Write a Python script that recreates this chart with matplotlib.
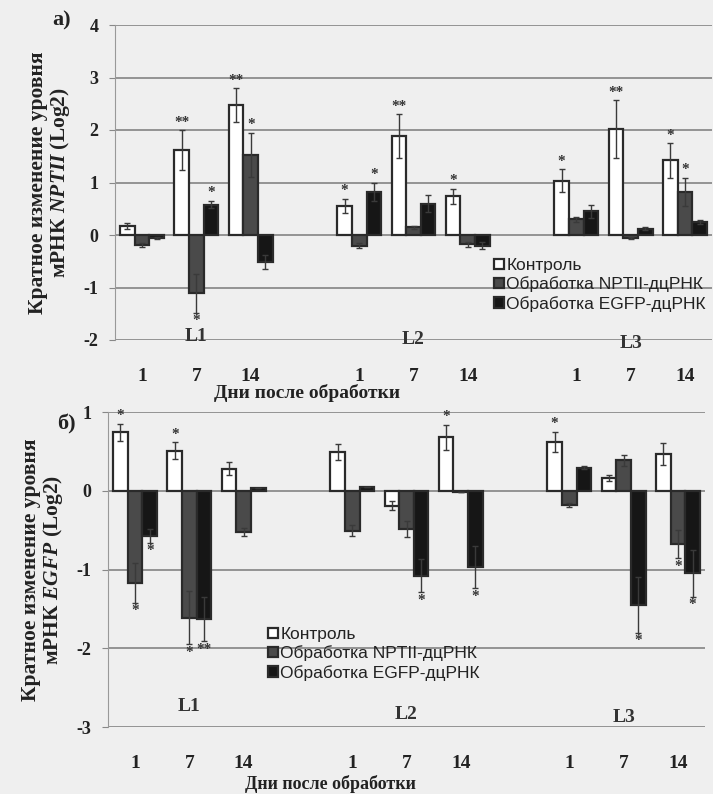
import numpy as np
import matplotlib
matplotlib.use("Agg")
import matplotlib.pyplot as plt

plt.rcParams['font.family'] = ['Liberation Serif', 'DejaVu Serif']
plt.rcParams['mathtext.fontset'] = 'custom'
plt.rcParams['mathtext.rm'] = 'Liberation Serif:bold'
plt.rcParams['mathtext.it'] = 'Liberation Serif:italic:bold'

# categories
lines = ['L1', 'L2', 'L3']
days = ['1', '7', '14']
series = ['Контроль', 'Обработка NPTII-дцРНК', 'Обработка EGFP-дцРНК']

# panel a) NPTII mRNA, order: L1 d1,d7,d14, L2 ..., L3 ...
control_a = [0.17, 1.62, 2.48, 0.55, 1.88, 0.74, 1.03, 2.02, 1.42]
control_a_err = [0.05, 0.38, 0.32, 0.14, 0.42, 0.14, 0.22, 0.55, 0.33]
nptii_a = [-0.19, -1.11, 1.53, -0.20, 0.15, -0.18, 0.30, -0.05, 0.82]
nptii_a_err = [0.04, 0.37, 0.42, 0.04, 0.03, 0.05, 0.05, 0.02, 0.27]
egfp_a = [-0.06, 0.58, -0.51, 0.82, 0.60, -0.20, 0.45, 0.12, 0.25]
egfp_a_err = [0.02, 0.07, 0.13, 0.18, 0.16, 0.06, 0.12, 0.03, 0.04]
stars_a = [
    ['', '**', '**', '*', '**', '*', '*', '**', '*'],
    ['', '*', '*', '', '', '', '', '', '*'],
    ['', '*', '', '*', '', '', '', '', ''],
]

# panel б) EGFP mRNA
control_b = [0.74, 0.51, 0.28, 0.49, -0.19, 0.68, 0.62, 0.16, 0.47]
control_b_err = [0.11, 0.11, 0.08, 0.10, 0.06, 0.16, 0.13, 0.04, 0.14]
nptii_b = [-1.17, -1.61, -0.52, -0.51, -0.49, -0.01, -0.18, 0.39, -0.68]
nptii_b_err = [0.25, 0.34, 0.05, 0.07, 0.10, 0.00, 0.02, 0.07, 0.18]
egfp_b = [-0.57, -1.63, 0.03, 0.05, -1.08, -0.97, 0.29, -1.45, -1.05]
egfp_b_err = [0.09, 0.28, 0.00, 0.00, 0.21, 0.27, 0.02, 0.35, 0.30]
stars_b = [
    ['*', '*', '', '', '', '*', '*', '', ''],
    ['*', '*', '', '', '', '', '', '', '*'],
    ['*', '**', '', '', '*', '*', '', '*', '*'],
]

BG = '#efefef'
face = ['white', '#4a4a4a', '#161616']
edge = '#2a2a2a'
bar_w = 0.27


def slot_positions():
    # one empty slot between lines
    return np.array([li * 4 + di for li in range(len(lines)) for di in range(len(days))])


def draw_panel(ax, values, errs, stars, ylim, ylabel, legend_anchor, line_label_y):
    pos = slot_positions()
    handles = []
    for i in range(3):
        x = pos + (i - 1) * bar_w
        b = ax.bar(x, values[i], bar_w, color=face[i], edgecolor=edge,
                   linewidth=1.6, zorder=3, label=series[i])
        handles.append(b)
        ax.errorbar(x, values[i], yerr=errs[i], fmt='none', ecolor='#3a3a3a',
                    elinewidth=1.0, capsize=2.5, capthick=1.0, zorder=4)
        for xi, v, e, s in zip(x, values[i], errs[i], stars[i]):
            if not s:
                continue
            if v >= 0:
                ax.annotate(s, (xi, v + e), xytext=(0, 1), textcoords='offset points',
                            ha='center', va='bottom', fontsize=11, color='#333333',
                            fontweight='bold', zorder=5)
            else:
                ax.annotate(s, (xi, v - e), xytext=(0, -1), textcoords='offset points',
                            ha='center', va='top', fontsize=11, color='#333333',
                            fontweight='bold', zorder=5)

    ax.set_xlim(-0.5, 10.5)
    ax.set_ylim(*ylim)
    ax.set_yticks(np.arange(ylim[0], ylim[1] + 1))
    ax.set_yticklabels([str(t) for t in range(ylim[0], ylim[1] + 1)],
                       fontsize=13, fontweight='bold', color='#222222')
    ax.set_xticks(pos)
    ax.set_xticklabels([days[k % 3] for k in range(len(pos))],
                       fontsize=14, fontweight='bold', color='#222222')
    ax.tick_params(axis='x', length=0, pad=20)
    ax.tick_params(axis='y', direction='out', length=4, color='#888888', pad=8)
    ax.grid(axis='y', color='#8c8c8c', linewidth=1.3, zorder=0)
    ax.set_axisbelow(True)
    for name in ['top', 'right', 'bottom']:
        ax.spines[name].set_visible(False)
    ax.spines['left'].set_color('#999999')
    ax.set_facecolor(BG)

    for li, name in enumerate(lines):
        ax.text(li * 4 + 1, line_label_y[li], name, transform=ax.get_xaxis_transform(),
                ha='center', va='center', fontsize=14, fontweight='bold', color='#333333')

    ax.set_ylabel(ylabel, fontsize=15.5, fontweight='bold', color='#222222',
                  linespacing=1.0, labelpad=8)

    leg = ax.legend(handles=handles, loc='upper left', bbox_to_anchor=legend_anchor,
                    bbox_transform=ax.figure.transFigure, frameon=False,
                    prop={'family': 'Liberation Sans', 'size': 12.5},
                    handlelength=0.55, handleheight=0.55, handletextpad=0.15,
                    labelspacing=0.2, borderpad=0, borderaxespad=0)
    for t in leg.get_texts():
        t.set_color('#222222')
    return ax


fig = plt.figure(figsize=(7.13, 7.94), dpi=100)
fig.patch.set_facecolor(BG)

ax_a = fig.add_axes([115 / 713, 1 - 340 / 794, 597 / 713, 315 / 794])
draw_panel(ax_a, [control_a, nptii_a, egfp_a], [control_a_err, nptii_a_err, egfp_a_err],
           stars_a, (-2, 4), 'Кратное изменение уровня\nмРНК $\\mathit{NPTII}$ (Log2)',
           (494 / 713, 1 - 258 / 794), [0.01, 0.0, -0.01])

ax_b = fig.add_axes([108 / 713, 1 - 727 / 794, 597 / 713, 315 / 794])
draw_panel(ax_b, [control_b, nptii_b, egfp_b], [control_b_err, nptii_b_err, egfp_b_err],
           stars_b, (-3, 1), 'Кратное изменение уровня\nмРНК $\\mathit{EGFP}$ (Log2)',
           (268 / 713, 1 - 627 / 794), [0.065, 0.04, 0.03])

fig.text(307 / 713, 1 - 393 / 794, 'Дни после обработки', ha='center', va='center',
         fontsize=14, fontweight='bold', color='#222222')
fig.text(330 / 713, 1 - 784 / 794, 'Дни после обработки', ha='center', va='center',
         fontsize=13, fontweight='bold', color='#222222')

fig.text(62 / 713, 1 - 20 / 794, 'а)', ha='center', va='center',
         fontsize=16, fontweight='bold', color='#222222')
fig.text(66 / 713, 1 - 424 / 794, 'б)', ha='center', va='center',
         fontsize=16, fontweight='bold', color='#222222')

fig.savefig('out.png', dpi=100, facecolor=BG)
